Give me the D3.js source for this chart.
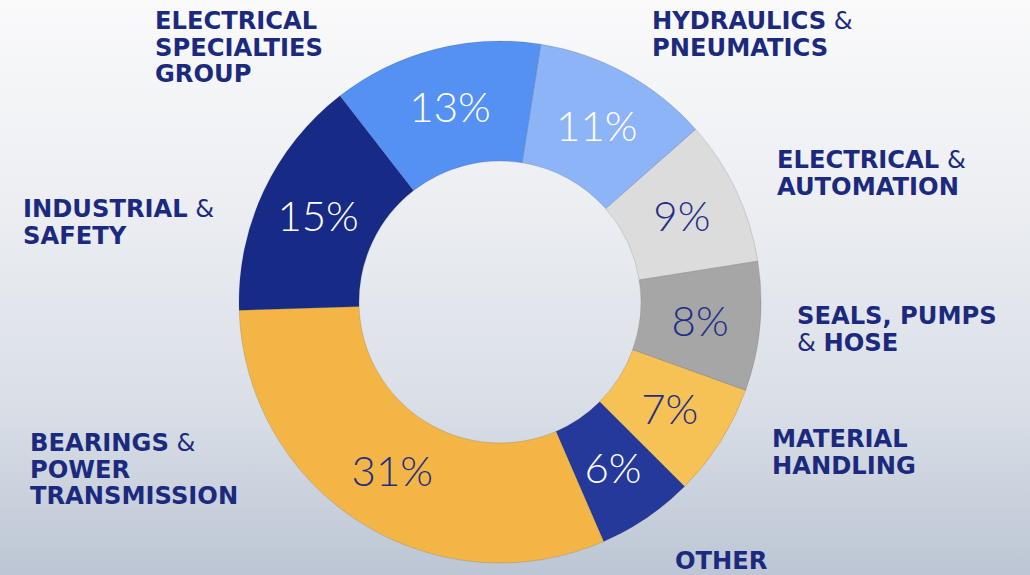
<!DOCTYPE html>
<html>
<head>
<meta charset="utf-8">
<script src="https://cdn.jsdelivr.net/npm/d3@7"></script>
<style>
  html, body { margin: 0; padding: 0; }
  body { width: 1030px; height: 575px; overflow: hidden; }
  svg { display: block; }
</style>
</head>
<body>
<svg id="chart" width="1030" height="575"></svg>
<script>
// Sales share by product group, clockwise from just right of twelve o'clock
const categories = [
  "Hydraulics & Pneumatics",
  "Electrical & Automation",
  "Seals, Pumps & Hose",
  "Material Handling",
  "Other",
  "Bearings & Power Transmission",
  "Industrial & Safety",
  "Electrical Specialties Group"
];
const shares = [11, 9, 8, 7, 6, 31, 15, 13];
const sliceColors = ["#8db4f7", "#dcdcdc", "#a6a6a6", "#f6c155", "#24399a", "#f3b646", "#172a85", "#5591f2"];
const valueTextColors = ["#ffffff", "#1f2e86", "#1f2e86", "#1f2e86", "#ffffff", "#1f2e86", "#ffffff", "#ffffff"];

// Category label lines: bold words, with "&" set in regular weight
const labelLines = [
  [["HYDRAULICS", " &"], ["PNEUMATICS"]],
  [["ELECTRICAL", " &"], ["AUTOMATION"]],
  [["SEALS, PUMPS"], ["& ", "HOSE"]],
  [["MATERIAL"], ["HANDLING"]],
  [["OTHER"]],
  [["BEARINGS", " &"], ["POWER"], ["TRANSMISSION"]],
  [["INDUSTRIAL", " &"], ["SAFETY"]],
  [["ELECTRICAL"], ["SPECIALTIES"], ["GROUP"]]
];
const labelAnchors = [
  [652, 29], [777, 168], [797, 324], [772, 447],
  [675, 569], [30, 451], [23, 217], [155, 29]
];

const W = 1030, H = 575;
const cx = 500, cy = 302, outerR = 261, innerR = 141;
const startDeg = 9;

const svg = d3.select("#chart");
const defs = svg.append("defs");
const grad = defs.append("linearGradient")
  .attr("id", "bg").attr("x1", 0).attr("y1", 0).attr("x2", 0).attr("y2", 1);
grad.append("stop").attr("offset", "0%").attr("stop-color", "#fafafb");
grad.append("stop").attr("offset", "35%").attr("stop-color", "#eceef2");
grad.append("stop").attr("offset", "70%").attr("stop-color", "#dadfe7");
grad.append("stop").attr("offset", "100%").attr("stop-color", "#bcc6d4");
svg.append("rect").attr("width", W).attr("height", H).attr("fill", "url(#bg)");

const pie = d3.pie()
  .sort(null)
  .value(d => d)
  .startAngle(startDeg * Math.PI / 180)
  .endAngle(startDeg * Math.PI / 180 + 2 * Math.PI);
const arcs = pie(shares);
const arc = d3.arc().innerRadius(innerR).outerRadius(outerR);

const g = svg.append("g").attr("transform", `translate(${cx},${cy})`);
g.selectAll("path.slice")
  .data(arcs)
  .join("path")
  .attr("class", "slice")
  .attr("d", arc)
  .attr("fill", (d, i) => sliceColors[i])
  .attr("stroke", "rgba(40,40,60,0.25)")
  .attr("stroke-width", 0.6);

g.selectAll("text.value")
  .data(arcs)
  .join("text")
  .attr("class", "value")
  .attr("transform", d => `translate(${arc.centroid(d)})`)
  .attr("text-anchor", "middle")
  .attr("dy", "0.35em")
  .attr("font-family", "Lato, 'Open Sans', 'Liberation Sans', sans-serif")
  .attr("font-weight", 300)
  .attr("font-size", 42)
  .attr("fill", (d, i) => valueTextColors[i])
  .text(d => d.data + "%");

// Category labels
const lab = svg.append("g")
  .attr("font-family", "'DejaVu Sans', 'Liberation Sans', sans-serif")
  .attr("font-size", 24.2)
  .attr("fill", "#1b2a7e");
const lineH = 26.5;
labelLines.forEach((lines, i) => {
  const [x, y] = labelAnchors[i];
  const t = lab.append("text").attr("x", x).attr("y", y).attr("aria-label", categories[i]);
  lines.forEach((parts, li) => {
    parts.forEach((p, pi) => {
      const span = t.append("tspan")
        .attr("font-weight", p.trim() === "&" ? 400 : 700)
        .text(p);
      if (pi === 0) span.attr("x", x).attr("y", y + li * lineH);
    });
  });
});
</script>
</body>
</html>
